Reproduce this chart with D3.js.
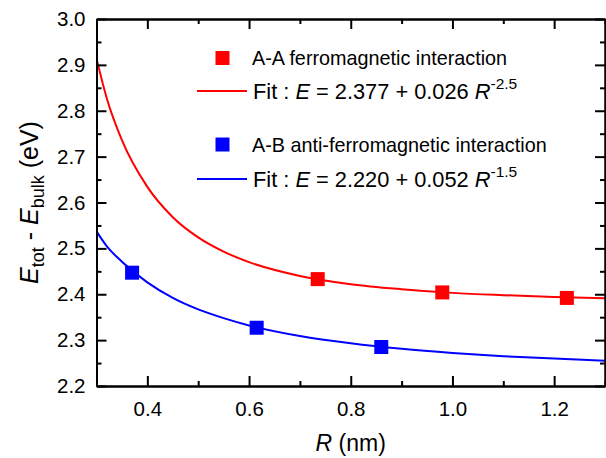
<!DOCTYPE html>
<html>
<head>
<meta charset="utf-8">
<script src="https://cdnjs.cloudflare.com/ajax/libs/d3/7.8.5/d3.min.js"></script>
<style>
  html, body { margin: 0; padding: 0; background: #fff; }
  svg { display: block; font-family: "Liberation Sans", Arial, Helvetica, sans-serif; }
</style>
</head>
<body>
<div id="chart"></div>
<script>
// computed points (R in nm, E in eV)
const aaR = [0.735, 0.98, 1.225];
const aaE = [2.433, 2.404, 2.392];
const abR = [0.37, 0.615, 0.86];
const abE = [2.447, 2.327, 2.285];

// fit curves
const fitR  = [0.30, 0.32, 0.35, 0.40, 0.45, 0.50, 0.55, 0.60, 0.70, 0.80, 0.90, 1.00, 1.10, 1.20, 1.30];
const fitAA = [2.914, 2.828, 2.736, 2.634, 2.568, 2.524, 2.493, 2.470, 2.440, 2.422, 2.411, 2.403, 2.398, 2.394, 2.391];
const fitAB = [2.537, 2.505, 2.471, 2.426, 2.392, 2.367, 2.348, 2.332, 2.309, 2.293, 2.281, 2.272, 2.265, 2.260, 2.255];

// axes
const xMajor = [0.4, 0.6, 0.8, 1.0, 1.2];
const xMinor = [0.3, 0.5, 0.7, 0.9, 1.1, 1.3];
const yMajor = [2.2, 2.3, 2.4, 2.5, 2.6, 2.7, 2.8, 2.9, 3.0];
const yMinor = [2.25, 2.35, 2.45, 2.55, 2.65, 2.75, 2.85, 2.95];

const legendLabels = ['A-A ferromagnetic interaction', 'A-B anti-ferromagnetic interaction'];
const fitLabels = [
    { a: '2.377', b: '0.026', p: '-2.5' },
    { a: '2.220', b: '0.052', p: '-1.5' }
];
const colors = ['#ff0000', '#0000ff'];

const W = 606, H = 458;
const margin = { top: 19, right: 1, bottom: 72, left: 96.5 };

const svg = d3.select('#chart').append('svg')
    .attr('width', W)
    .attr('height', H);

const x = d3.scaleLinear().domain([0.3, 1.3]).range([margin.left, W - margin.right]);
const y = d3.scaleLinear().domain([2.2, 3.0]).range([H - margin.bottom, margin.top]);

svg.append('clipPath').attr('id', 'plot-clip')
    .append('rect')
    .attr('x', x(0.3)).attr('y', y(3.0))
    .attr('width', x(1.3) - x(0.3)).attr('height', y(2.2) - y(3.0));

// fit lines
const line = d3.line()
    .x(d => x(d[0]))
    .y(d => y(d[1]))
    .curve(d3.curveMonotoneX);

const plot = svg.append('g').attr('clip-path', 'url(#plot-clip)');

[fitAA, fitAB].forEach((vals, i) => {
    plot.append('path')
        .datum(fitR.map((r, k) => [r, vals[k]]))
        .attr('fill', 'none')
        .attr('stroke', colors[i])
        .attr('stroke-width', 2)
        .attr('d', line);
});

// markers
const msize = 14;
[[aaR, aaE], [abR, abE]].forEach(([rs, es], i) => {
    plot.selectAll(null)
        .data(rs.map((r, k) => [r, es[k]]))
        .enter()
        .append('rect')
        .attr('x', d => x(d[0]) - msize / 2)
        .attr('y', d => y(d[1]) - msize / 2)
        .attr('width', msize)
        .attr('height', msize)
        .attr('fill', colors[i]);
});

// axes: ticks point inward on all four sides
function styleAxis(g) {
    g.select('.domain').attr('stroke', '#000').attr('stroke-width', 2);
    g.selectAll('.tick line').attr('stroke', '#000').attr('stroke-width', 2);
    g.selectAll('.tick text')
        .attr('fill', '#000')
        .style('font-size', '20.5px')
        .style('font-family', '"Liberation Sans", Arial, sans-serif');
}

const y0 = y(2.2), y1 = y(3.0), x0 = x(0.3), x1 = x(1.3);

// bottom
svg.append('g').attr('transform', `translate(0,${y0})`)
    .call(d3.axisBottom(x).tickValues(xMinor).tickSize(-5).tickSizeOuter(0).tickFormat(''))
    .call(styleAxis);
svg.append('g').attr('transform', `translate(0,${y0})`)
    .call(d3.axisBottom(x).tickValues(xMajor).tickSize(-10).tickSizeOuter(0)
        .tickPadding(15).tickFormat(d3.format('.1f')))
    .call(styleAxis);

// top
svg.append('g').attr('transform', `translate(0,${y1})`)
    .call(d3.axisTop(x).tickValues(xMinor).tickSize(-5).tickSizeOuter(0).tickFormat(''))
    .call(styleAxis);
svg.append('g').attr('transform', `translate(0,${y1})`)
    .call(d3.axisTop(x).tickValues(xMajor).tickSize(-10).tickSizeOuter(0).tickFormat(''))
    .call(styleAxis);

// left
svg.append('g').attr('transform', `translate(${x0},0)`)
    .call(d3.axisLeft(y).tickValues(yMinor).tickSize(-5).tickSizeOuter(0).tickFormat(''))
    .call(styleAxis);
svg.append('g').attr('transform', `translate(${x0},0)`)
    .call(d3.axisLeft(y).tickValues(yMajor).tickSize(-10).tickSizeOuter(0)
        .tickPadding(11).tickFormat(d3.format('.1f')))
    .call(styleAxis);

// right
svg.append('g').attr('transform', `translate(${x1},0)`)
    .call(d3.axisRight(y).tickValues(yMinor).tickSize(-5).tickSizeOuter(0).tickFormat(''))
    .call(styleAxis);
svg.append('g').attr('transform', `translate(${x1},0)`)
    .call(d3.axisRight(y).tickValues(yMajor).tickSize(-10).tickSizeOuter(0).tickFormat(''))
    .call(styleAxis);

// axis titles
const xTitle = svg.append('text')
    .attr('x', (x0 + x1) / 2)
    .attr('y', 451)
    .attr('text-anchor', 'middle')
    .style('font-size', '23px');
xTitle.append('tspan').style('font-style', 'italic').text('R');
xTitle.append('tspan').text(' (nm)');

const yTitle = svg.append('text')
    .attr('transform', `translate(38,${(y0 + y1) / 2}) rotate(-90)`)
    .attr('text-anchor', 'middle')
    .style('font-size', '25px');
yTitle.append('tspan').style('font-style', 'italic').text('E');
yTitle.append('tspan').attr('dy', 6).style('font-size', '18px').text('tot');
yTitle.append('tspan').attr('dy', -6).text(' - ');
yTitle.append('tspan').style('font-style', 'italic').text('E');
yTitle.append('tspan').attr('dy', 6).style('font-size', '18px').text('bulk');
yTitle.append('tspan').attr('dy', -6).text(' (eV)');

// legend
const legendRows = [
    { markY: 58, labelY: 65, lineY: 91, fitY: 98.5 },
    { markY: 144.5, labelY: 152, lineY: 179, fitY: 186.5 }
];

legendRows.forEach((row, i) => {
    const g = svg.append('g').attr('class', 'legend-item');
    g.append('rect')
        .attr('x', 222.5 - 7).attr('y', row.markY - 7)
        .attr('width', 14).attr('height', 14)
        .attr('fill', colors[i]);
    g.append('text')
        .attr('x', 252).attr('y', row.labelY)
        .style('font-size', '19.8px')
        .text(legendLabels[i]);
    g.append('line')
        .attr('x1', 197).attr('x2', 247)
        .attr('y1', row.lineY).attr('y2', row.lineY)
        .attr('stroke', colors[i]).attr('stroke-width', 2);

    const f = fitLabels[i];
    const t = g.append('text')
        .attr('x', 253).attr('y', row.fitY)
        .style('font-size', '21.8px');
    t.append('tspan').text('Fit : ');
    t.append('tspan').style('font-style', 'italic').text('E');
    t.append('tspan').text(` = ${f.a} + ${f.b} `);
    t.append('tspan').style('font-style', 'italic').text('R');
    t.append('tspan').attr('dy', -10).style('font-size', '15.5px').text(f.p);
});
</script>
</body>
</html>
